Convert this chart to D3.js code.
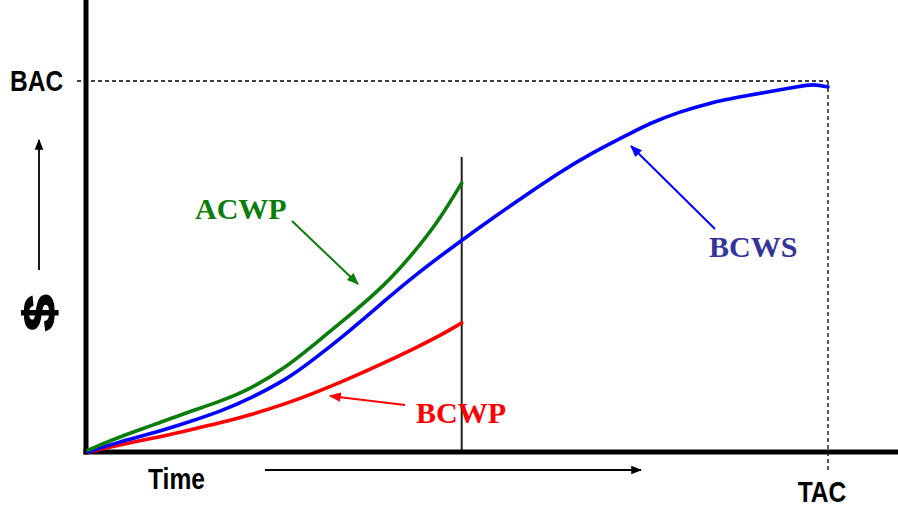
<!DOCTYPE html>
<html>
<head>
<meta charset="utf-8">
<script src="https://cdn.jsdelivr.net/npm/d3@7"></script>
<style>
  html, body { margin: 0; padding: 0; background: #ffffff; }
  svg { display: block; }
  .narrow { font-family: "Liberation Sans", Arial, sans-serif; font-weight: bold; font-size: 30px; }
  .serif { font-family: "Liberation Serif", "Times New Roman", serif; font-weight: bold; font-size: 30px; }
</style>
</head>
<body>
<svg id="chart" width="898" height="509"></svg>
<script>
// Earned value curves: time in % of planned duration, cost in % of budget
const planTime = [0, 4, 9, 13, 18, 22, 27, 30, 35, 40, 44, 50.5, 55, 59, 64, 68, 73, 76, 80, 84, 88, 92, 96, 98, 100];
const bcws     = [0, 2.6, 5.2, 7.7, 11.0, 14.5, 19.8, 24.2, 32.0, 40.6, 47.4, 57.1, 63.5, 69.0, 75.7, 80.5, 85.6, 88.7, 91.7, 94.1, 95.7, 97.1, 98.5, 99.2, 98.4];

const actualTime = [0, 4, 9, 13, 18, 22, 27, 30, 35, 40, 44, 47.5, 50.5];
const acwp       = [0.5, 3.9, 7.4, 10.4, 13.7, 17.0, 23.2, 28.1, 36.2, 44.7, 53.6, 62.6, 72.5];
const bcwp       = [0, 1.8, 3.8, 5.6, 7.9, 10.0, 13.2, 15.4, 19.5, 24.0, 27.8, 31.3, 34.8];

const statusDate = 50.5;        // "now" line
const budgetAtCompletion = 100; // BAC
const timeAtCompletion = 100;   // TAC
const axisLabels = { y: "BAC", x: "TAC", time: "Time", money: "$" };

const svg = d3.select("#chart");

const x = d3.scaleLinear().domain([0, 100]).range([88, 828]);
const y = d3.scaleLinear().domain([0, 100]).range([452, 81]);

// arrowhead markers
const defs = svg.append("defs");
function marker(id, color) {
  defs.append("marker")
    .attr("id", id)
    .attr("viewBox", "0 0 10 10")
    .attr("refX", 9).attr("refY", 5)
    .attr("markerWidth", 6).attr("markerHeight", 6)
    .attr("markerUnits", "strokeWidth")
    .attr("orient", "auto")
    .append("path")
    .attr("d", "M0,1 L10,5 L0,9 Z")
    .attr("fill", color);
}
marker("a-black", "#000");
marker("a-green", "#0a7d0a");
marker("a-red", "#ff0000");
marker("a-blue", "#0000ff");

// BAC / TAC reference lines
svg.append("line")
  .attr("x1", x(0) - 11).attr("x2", x(timeAtCompletion))
  .attr("y1", y(budgetAtCompletion)).attr("y2", y(budgetAtCompletion))
  .attr("stroke", "#000").attr("stroke-width", 1.3).attr("stroke-dasharray", "4,3");
svg.append("line")
  .attr("x1", x(timeAtCompletion)).attr("x2", x(timeAtCompletion))
  .attr("y1", y(budgetAtCompletion)).attr("y2", y(0) + 20)
  .attr("stroke", "#000").attr("stroke-width", 1.3).attr("stroke-dasharray", "4,3");

// status date line
svg.append("line")
  .attr("x1", x(statusDate)).attr("x2", x(statusDate))
  .attr("y1", 157).attr("y2", y(0))
  .attr("stroke", "#222").attr("stroke-width", 2);

// axes
svg.append("line")
  .attr("x1", x(0) - 2).attr("x2", x(0) - 2)
  .attr("y1", 0).attr("y2", y(0) + 2.5)
  .attr("stroke", "#000").attr("stroke-width", 5);
svg.append("line")
  .attr("x1", x(0) - 4.5).attr("x2", 898)
  .attr("y1", y(0)).attr("y2", y(0))
  .attr("stroke", "#000").attr("stroke-width", 5);

// curves
const line = d3.line()
  .x(d => x(d[0]))
  .y(d => y(d[1]))
  .curve(d3.curveBasis);

function drawCurve(ts, vs, color) {
  svg.append("path")
    .datum(ts.map((t, i) => [t, vs[i]]))
    .attr("d", line)
    .attr("fill", "none")
    .attr("stroke", color)
    .attr("stroke-width", 3.6)
    .attr("stroke-linecap", "round")
    .attr("stroke-linejoin", "round");
}
drawCurve(actualTime, bcwp, "#ff0000");
drawCurve(planTime, bcws, "#0000ff");
drawCurve(actualTime, acwp, "#0a7d0a");

// condensed axis labels
function narrowText(str, px, py, anchor) {
  svg.append("text").attr("class", "narrow")
    .attr("transform", `translate(${px},${py}) scale(0.82,1)`)
    .attr("text-anchor", anchor || "start")
    .text(str);
}
narrowText(axisLabels.y, 10, y(budgetAtCompletion) + 9.5);
narrowText(axisLabels.x, 822, 502, "middle");
narrowText(axisLabels.time, 148, 489);

svg.append("text")
  .attr("transform", "translate(40,313) rotate(-90) scale(1.5,1)")
  .attr("text-anchor", "middle").attr("dominant-baseline", "central")
  .attr("font-family", "Liberation Sans, Arial, sans-serif")
  .attr("font-weight", "bold").attr("font-size", 44)
  .attr("stroke", "#000").attr("stroke-width", 1.2)
  .text(axisLabels.money);

// direction arrows
svg.append("line")
  .attr("x1", 39).attr("y1", 270).attr("x2", 39).attr("y2", 140)
  .attr("stroke", "#000").attr("stroke-width", 1.8)
  .attr("marker-end", "url(#a-black)");
svg.append("line")
  .attr("x1", 265).attr("y1", 470).attr("x2", 641).attr("y2", 470)
  .attr("stroke", "#000").attr("stroke-width", 1.8)
  .attr("marker-end", "url(#a-black)");

// series callouts
const callouts = [
  { name: "ACWP", color: "#0a7d0a", arrow: "a-green", tx: 195, ty: 219, from: [292, 221], to: [358, 284] },
  { name: "BCWP", color: "#ff0000", arrow: "a-red",   tx: 416, ty: 423, from: [405, 405], to: [330, 396] },
  { name: "BCWS", color: "#333399", arrow: "a-blue",  tx: 709, ty: 257, from: [715, 229], to: [631, 146], lineColor: "#0000ff" }
];
callouts.forEach(c => {
  svg.append("line")
    .attr("x1", c.from[0]).attr("y1", c.from[1])
    .attr("x2", c.to[0]).attr("y2", c.to[1])
    .attr("stroke", c.lineColor || c.color).attr("stroke-width", 2)
    .attr("marker-end", `url(#${c.arrow})`);
  svg.append("text").attr("class", "serif")
    .attr("x", c.tx).attr("y", c.ty)
    .attr("fill", c.color)
    .text(c.name);
});
</script>
</body>
</html>
